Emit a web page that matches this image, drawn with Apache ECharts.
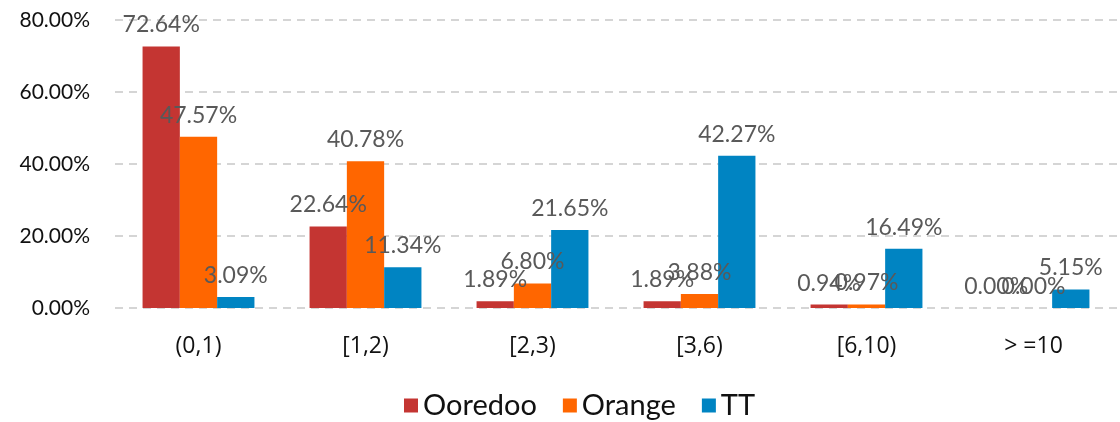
<!DOCTYPE html>
<html>
<head>
<meta charset="utf-8">
<script src="https://cdn.jsdelivr.net/npm/echarts@6/dist/echarts.min.js"></script>
<style>
  html, body { margin: 0; padding: 0; background: #fff; }
  #chart { width: 1120px; height: 422px; }
</style>
</head>
<body>
<div id="chart"></div>
<script>
var categories = ["(0,1)", "[1,2)", "[2,3)", "[3,6)", "[6,10)", "> =10"];
var ooredoo = [72.64, 22.64, 1.89, 1.89, 0.94, 0.00];
var orange = [47.57, 40.78, 6.80, 3.88, 0.97, 0.00];
var tt = [3.09, 11.34, 21.65, 42.27, 16.49, 5.15];
var yTicks = [0, 20, 40, 60, 80];

var myChart = echarts.init(document.getElementById("chart"));

var valueLabel = {
  show: true,
  position: "top",
  distance: 10,
  color: "#595959",
  fontSize: 23,
  fontFamily: "Lato",
  formatter: function (p) {
    return p.value.toFixed(2) + "%";
  }
};

function makeSeries(name, data, color) {
  return {
    name: name,
    type: "bar",
    data: data,
    barGap: "0%",
    barCategoryGap: "33%",
    itemStyle: { color: color },
    label: valueLabel
  };
}

var option = {
  animation: false,
  grid: {
    left: 115,
    right: 3,
    top: 20,
    bottom: 114,
    containLabel: false
  },
  legend: {
    bottom: -3,
    left: 399,
    itemWidth: 14,
    itemHeight: 14,
    itemGap: 26,
    icon: "rect",
    textStyle: { fontSize: 29, color: "#111", fontFamily: "Lato" },
    data: ["Ooredoo", "Orange", "TT"]
  },
  xAxis: {
    type: "category",
    data: categories,
    axisLine: { show: false },
    axisTick: { show: false },
    axisLabel: {
      color: "#111",
      fontSize: 23,
      fontFamily: "Open Sans",
      margin: 27
    }
  },
  yAxis: {
    type: "value",
    min: yTicks[0],
    max: yTicks[yTicks.length - 1],
    interval: 20,
    axisLine: { show: false },
    axisTick: { show: false },
    splitLine: {
      lineStyle: { color: "#c8c8c8", type: [8, 6], width: 1.5 }
    },
    axisLabel: {
      color: "#111",
      fontSize: 21,
      fontFamily: "Lato",
      margin: 25,
      formatter: function (v) { return v.toFixed(2) + "%"; }
    }
  },
  series: [
    makeSeries("Ooredoo", ooredoo, "#C43532"),
    makeSeries("Orange", orange, "#FF6600"),
    makeSeries("TT", tt, "#0084C2")
  ]
};

myChart.setOption(option);
</script>
</body>
</html>
